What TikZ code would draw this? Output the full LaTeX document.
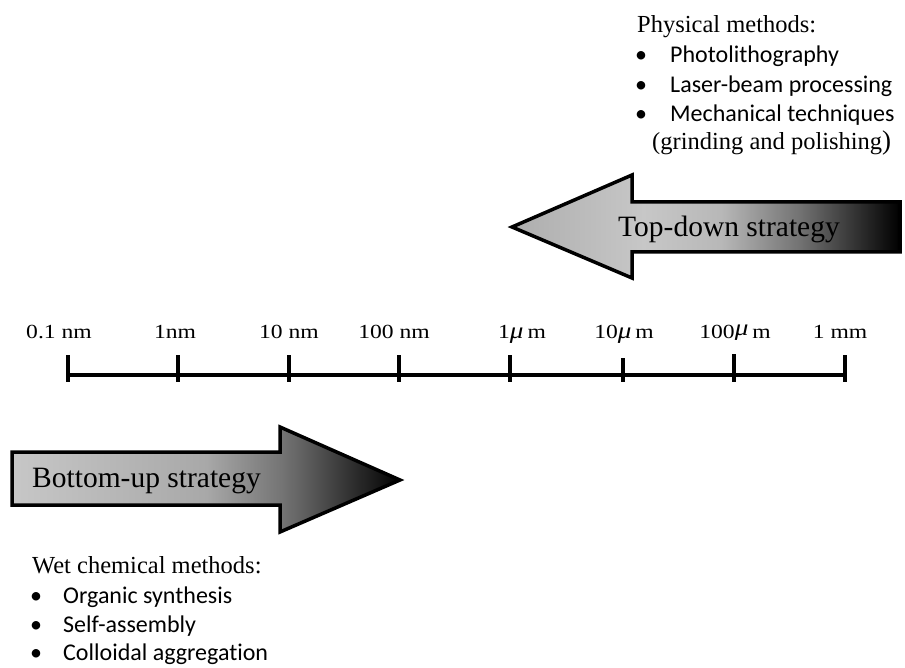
\documentclass[tikz,border=0pt]{standalone}
\usepackage{fontspec}
\setmainfont{Liberation Serif}
\newfontfamily\calib[Ligatures=NoCommon]{Carlito}
% TikZ maps 25bp..75bp of a 100bp shading to the path's bounding box
\pgfdeclarehorizontalshading{tdshade}{100bp}{color(0bp)=(black!32); color(25bp)=(black!32); color(42bp)=(black!22); color(52bp)=(black!28); color(62bp)=(black!55); color(75bp)=(black); color(100bp)=(black)}
\pgfdeclarehorizontalshading{bushade}{100bp}{color(0bp)=(black!22); color(25bp)=(black!22); color(50bp)=(black!34); color(60bp)=(black!55); color(75bp)=(black); color(100bp)=(black)}
\tikzset{
  bigarrow/.style={draw=black, line width=3.5pt, line join=miter},
  arrowtext/.style={font=\fontsize{29.5}{34}\selectfont, inner sep=0pt, anchor=base west},
  scaletext/.style={font=\fontsize{20}{24}\selectfont, inner sep=0pt, anchor=base, xscale=1.18},
  headtext/.style={font=\fontsize{24.5}{29}\selectfont, inner sep=0pt, anchor=base west},
  itemtext/.style={font=\calib\fontsize{24}{29}\selectfont, inner sep=0pt, anchor=base west},
  bullettext/.style={font=\calib\fontsize{24}{29}\selectfont, inner sep=0pt, anchor=base},
  scaleline/.style={line width=4pt},
}
\begin{document}
\begin{tikzpicture}[x=1pt,y=-1pt]
\useasboundingbox (0,0) rectangle (905,668);

% Top-down arrow
\path[bigarrow, shading=tdshade]
  (512,227) -- (632,175) -- (632,202) -- (900,202) -- (900,252) -- (632,252) -- (632,278) -- cycle;
\node[arrowtext] (td) at (618,237) {Top-down strategy};

% Bottom-up arrow
\path[bigarrow, shading=bushade]
  (12,452) -- (280,452) -- (280,427) -- (400,480) -- (280,532) -- (280,505) -- (12,505) -- cycle;
\node[arrowtext] (bu) at (32,487) {Bottom-up strategy};

% Scale
\coordinate (t1) at (68,375);
\coordinate (t2) at (178,375);
\coordinate (t3) at (289,375);
\coordinate (t4) at (399,375);
\coordinate (t5) at (510,375);
\coordinate (t6) at (623,375);
\coordinate (t7) at (734,375);
\coordinate (t8) at (845,375);
\draw[scaleline] (t1) -- (t8);
\foreach \t/\top in {t1/355,t2/355,t3/355,t4/355,t5/355,t6/358,t7/354,t8/355}{
  \draw[scaleline] (\t |- 0,\top) -- (\t |- 0,382);
}

\node[scaletext] (l1) at (59,338) {0.1 nm};
\node[scaletext] (l2) at (175,338) {1nm};
\node[scaletext] (l3) at (289,338) {10 nm};
\node[scaletext] (l4) at (394,338) {100 nm};
\node[scaletext] (l5) at (522,338) {1{\fontsize{23}{24}\selectfont\itshape μ}\,m};
\node[scaletext] (l6) at (624,338) {10{\fontsize{23}{24}\selectfont\itshape μ}\,m};
\node[scaletext] (l7) at (735,338) {100\raisebox{3pt}{\fontsize{23}{24}\selectfont\itshape μ}\,m};
\node[scaletext] (l8) at (840,338) {1 mm};

% Physical methods
\node[headtext] (ph) at (637,33) {Physical methods:};
\node[bullettext] (b1) at (641,63) {•};
\node[itemtext] (p1) at (670,63) {Photolithography};
\node[bullettext] (b2) at (641,93) {•};
\node[itemtext] (p2) at (670,93) {Laser-beam processing};
\node[bullettext] (b3) at (641,122) {•};
\node[itemtext] (p3) at (670,122) {Mechanical techniques};
\node[headtext] (p4) at (652,150) {(grinding and polishing\fontsize{27}{29}\selectfont)};

% Wet chemical methods
\node[headtext] (wc) at (32,573) {Wet chemical methods:};
\node[bullettext] (c1) at (36,603) {•};
\node[itemtext] (w1) at (63,603) {Organic synthesis};
\node[bullettext] (c2) at (36,632) {•};
\node[itemtext] (w2) at (63,632) {Self-assembly};
\node[bullettext] (c3) at (36,660) {•};
\node[itemtext] (w3) at (63,660) {Colloidal aggregation};
\end{tikzpicture}
\end{document}
